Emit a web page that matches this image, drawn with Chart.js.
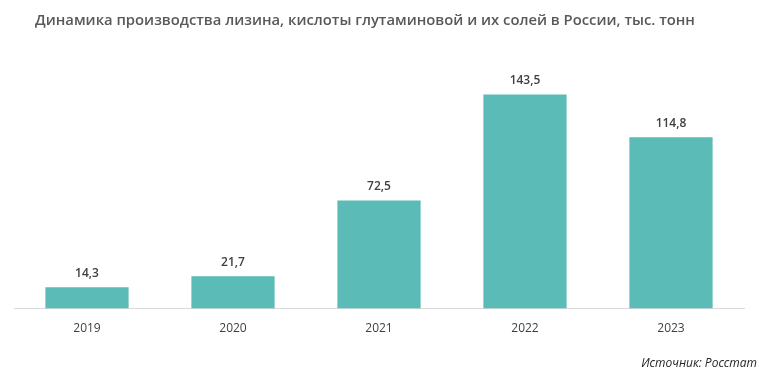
<!DOCTYPE html>
<html>
<head>
<meta charset="utf-8">
<script src="https://cdn.jsdelivr.net/npm/chart.js@4"></script>
<style>
html,body{margin:0;padding:0;background:#fff;}
#wrap{position:relative;width:759px;height:379px;}
#title{position:absolute;left:35px;top:9px;font-family:"Open Sans",sans-serif;font-weight:600;font-size:14.8px;color:#595959;white-space:nowrap;}
#src{position:absolute;right:2px;top:354px;font-family:"Open Sans",sans-serif;font-style:italic;font-size:12px;color:#262626;white-space:nowrap;}
canvas{position:absolute;left:0;top:0;}
</style>
</head>
<body>
<div id="wrap">
<canvas id="c" width="759" height="379"></canvas>
<div id="title">Динамика производства лизина, кислоты глутаминовой и их солей в России, тыс. тонн</div>
<div id="src">Источник: Росстат</div>
</div>
<script>
const categories = ["2019", "2020", "2021", "2022", "2023"];
const values = [14.3, 21.7, 72.5, 143.5, 114.8];
const valueLabels = ["14,3", "21,7", "72,5", "143,5", "114,8"];

const labelPlugin = {
  id: 'barLabels',
  afterDatasetsDraw(chart) {
    const ctx = chart.ctx;
    const meta = chart.getDatasetMeta(0);
    ctx.save();
    ctx.font = '600 12px "Open Sans", sans-serif';
    ctx.fillStyle = '#404040';
    ctx.textAlign = 'center';
    ctx.textBaseline = 'middle';
    meta.data.forEach((bar, i) => {
      ctx.fillText(valueLabels[i], bar.x, bar.y - 14);
    });
    ctx.restore();
  }
};

new Chart(document.getElementById('c'), {
  type: 'bar',
  data: {
    labels: categories,
    datasets: [{
      data: values,
      backgroundColor: '#5BBBB7',
      barPercentage: 0.57,
      categoryPercentage: 1
    }]
  },
  options: {
    responsive: false,
    animation: false,
    layout: { padding: { left: 14, right: 15, top: 40, bottom: 30 } },
    plugins: { legend: { display: false }, tooltip: { enabled: false }, title: { display: false } },
    scales: {
      x: {
        grid: { display: false, drawTicks: false },
        border: { display: true, color: '#D9D9D9', width: 1 },
        ticks: { color: '#404040', font: { family: '"Open Sans", sans-serif', size: 12 }, padding: 13 }
      },
      y: {
        display: false,
        min: 0,
        max: 180
      }
    }
  },
  plugins: [labelPlugin]
});
</script>
</body>
</html>
